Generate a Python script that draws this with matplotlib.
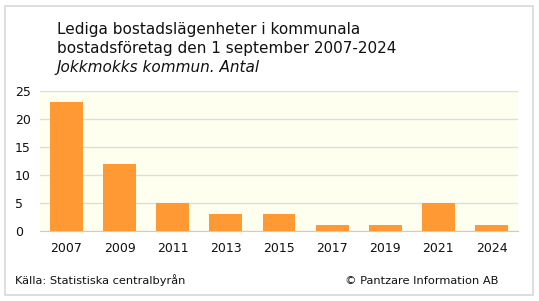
import matplotlib.pyplot as plt
from matplotlib.patches import Rectangle

years = ["2007", "2009", "2011", "2013", "2015", "2017", "2019", "2021", "2024"]
vacant = [23, 12, 5, 3, 3, 1, 1, 5, 1]
yticks = [0, 5, 10, 15, 20, 25]

fig = plt.figure(figsize=(5.39, 3.01), dpi=100)
fig.patch.set_facecolor("white")

# outer border
fig.patches.append(Rectangle((5 / 539, 6 / 301), 528 / 539, 289 / 301, transform=fig.transFigure,
                             fill=False, edgecolor="#d8d8d8", linewidth=1.2))

ax = fig.add_axes([40 / 539, 1 - 231 / 301, 478 / 539, 140 / 301])
ax.set_facecolor("#fffff0")
x = range(len(years))
ax.bar(x, vacant, width=0.62, color="#ff9933", zorder=3)
ax.set_xlim(-0.5, len(years) - 0.5)
ax.set_ylim(0, 25)
ax.set_yticks(yticks)
ax.set_xticks(list(x))
ax.set_xticklabels(years)
ax.grid(axis="y", color="#dddddd", linewidth=1, zorder=0)
for s in ["top", "right", "left"]:
    ax.spines[s].set_visible(False)
ax.spines["bottom"].set_color("#cccccc")
ax.tick_params(length=0, labelsize=9, colors="#111111")
ax.tick_params(axis="x", pad=8)
ax.tick_params(axis="y", pad=18)
for lab in ax.get_yticklabels():
    lab.set_horizontalalignment("left")

title_lines = ["Lediga bostadslägenheter i kommunala",
               "bostadsföretag den 1 september 2007-2024"]
for i, line in enumerate(title_lines):
    fig.text(57 / 539, 1 - (34 + 19 * i) / 301, line, fontsize=11, va="baseline", color="#111111")
fig.text(57 / 539, 1 - 72 / 301, "Jokkmokks kommun. Antal", fontsize=11, style="italic",
         va="baseline", color="#111111")
fig.text(15 / 539, 1 - 284 / 301, "Källa: Statistiska centralbyrån", fontsize=8.2, va="baseline", color="#111111")
fig.text(498 / 539, 1 - 284 / 301, "© Pantzare Information AB", fontsize=8.2, va="baseline", ha="right",
         color="#111111")

fig.savefig("out.png", dpi=100)
